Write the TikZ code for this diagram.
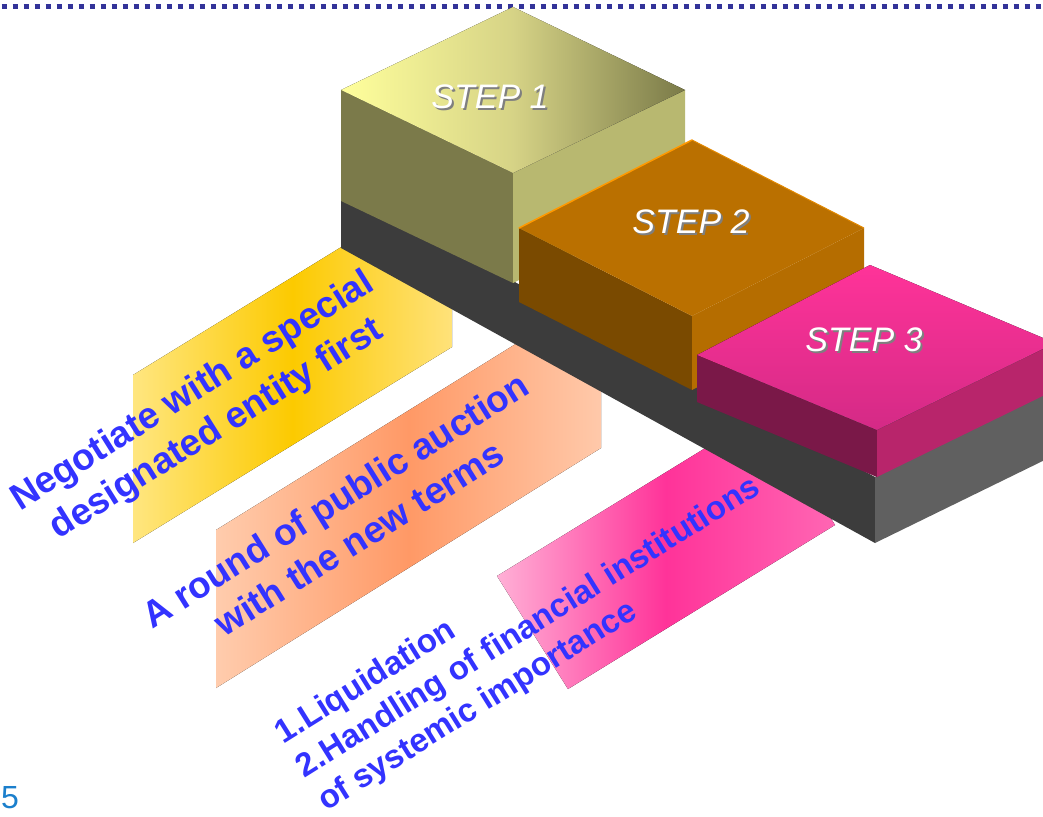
\documentclass[tikz,border=0pt]{standalone}
\usepackage{fontspec}
\setmainfont{Liberation Sans}
\definecolor{dotblue}{HTML}{333399}
\definecolor{txtblue}{HTML}{3333FF}
\definecolor{numblue}{HTML}{1B7FCC}
\definecolor{yelA}{HTML}{FFE680}
\definecolor{yelB}{HTML}{FCCA00}
\definecolor{yelC}{HTML}{FFE27A}
\definecolor{salA}{HTML}{FFCCAD}
\definecolor{salB}{HTML}{FF9966}
\definecolor{salC}{HTML}{FFC9AA}
\definecolor{pinkA}{HTML}{FFB0D6}
\definecolor{pinkB}{HTML}{FF3399}
\definecolor{pinkC}{HTML}{FF66B3}
\definecolor{baseleft}{HTML}{3C3C3C}
\definecolor{baseright}{HTML}{606060}
\definecolor{sOneA}{HTML}{FFFF9C}
\definecolor{sOneB}{HTML}{D6D386}
\definecolor{sOneC}{HTML}{7A7A48}
\definecolor{sOneLeft}{HTML}{7B7A4A}
\definecolor{sOneRight}{HTML}{B8B870}
\definecolor{sTwoTop}{HTML}{BA7000}
\definecolor{sTwoLeft}{HTML}{7A4A00}
\definecolor{sTwoRight}{HTML}{B56D00}
\definecolor{sTwoEdge}{HTML}{FF9900}
\definecolor{sThreeA}{HTML}{FF3399}
\definecolor{sThreeB}{HTML}{D42A86}
\definecolor{sThreeLeft}{HTML}{7A1848}
\definecolor{sThreeRight}{HTML}{B8256B}
\definecolor{shadowgray}{HTML}{7F7F7F}
\begin{document}
\begin{tikzpicture}[x=1pt,y=-1pt,
  bandtext/.style={text=txtblue, font=\bfseries\fontsize{37}{45}\selectfont, rotate=32, align=center, inner sep=0pt},
  smalltext/.style={bandtext, font=\bfseries\fontsize{33}{40}\selectfont, align=left},
  steplabel/.style={text=white, font=\itshape\fontsize{34}{40}\selectfont, inner sep=0pt},
  stepshadow/.style={steplabel, text=shadowgray}
]
\useasboundingbox (0,0) rectangle (1043,816);
\clip (0,0) rectangle (1043,816);

% dotted rule
\draw[dotblue, line width=5pt, dash pattern=on 5pt off 6pt] (1.7,6.5) -- (1043,6.5);

% bands
\fill[left color=yelA, right color=yelC, middle color=yelB] (133,375) -- (452,179) -- (452,347) -- (133,543) -- cycle;
\fill[left color=salA, right color=salC, middle color=salB] (216,530) -- (601,291) -- (601,448) -- (216,688) -- cycle;
\fill[left color=pinkA, right color=pinkC, middle color=pinkB] (497,576) -- (764,412) -- (835,525) -- (568,689) -- cycle;

% base slab
\fill[baseleft] (341,198) -- (513,281) -- (875,477) -- (875,543) -- (341,248) -- cycle;
\fill[baseright] (875,477) -- (1055,389) -- (1055,455) -- (875,543) -- cycle;

% step 1
\fill[sOneLeft] (341,90) -- (513,173) -- (513,283) -- (341,201) -- cycle;
\fill[sOneRight] (513,173) -- (685,90) -- (685,200) -- (513,283) -- cycle;
\fill[left color=sOneA, right color=sOneC, middle color=sOneB] (513,7) -- (685,90) -- (513,173) -- (341,90) -- cycle;

% step 2
\fill[sTwoLeft] (519,228) -- (692,316) -- (692,390) -- (519,302) -- cycle;
\fill[sTwoRight] (692,316) -- (864,228) -- (864,302) -- (692,390) -- cycle;
\fill[sTwoTop] (692,140) -- (864,228) -- (692,316) -- (519,228) -- cycle;
\draw[sTwoEdge, line width=1.5pt, line cap=round] (519,228) -- (692,140);
\draw[sTwoEdge!60!sTwoTop, line width=1pt] (692,140) -- (864,228);

% step 3
\fill[sThreeLeft] (697,355) -- (877,430) -- (877,477) -- (697,402) -- cycle;
\fill[sThreeRight] (877,430) -- (1055,343) -- (1055,390) -- (877,477) -- cycle;
\fill[top color=sThreeA, bottom color=sThreeB] (870,265) -- (1055,343) -- (877,430) -- (697,355) -- cycle;

% step labels
\node[stepshadow] (s1shadow) at (492,99) {STEP 1};
\node[steplabel] (s1label) at (490,97) {STEP 1};
\node[stepshadow] (s2shadow) at (693,224) {STEP 2};
\node[steplabel] (s2label) at (691,222) {STEP 2};
\node[stepshadow] (s3shadow) at (866,342) {STEP 3};
\node[steplabel] (s3label) at (864,340) {STEP 3};

% band texts
\node[bandtext] (t1) at (205,411) {Negotiate with a special\\designated entity first};
\node[bandtext] (t2) at (347,519) {A round of public auction\\with the new terms};
\node[smalltext] (t3) at (529,628) {1.Liquidation\\2.Handling of financial institutions\\of systemic importance};

% page number
\node[text=numblue, font=\fontsize{32}{38}\selectfont, inner sep=0pt] (pagenum) at (10,798) {5};
\end{tikzpicture}
\end{document}
